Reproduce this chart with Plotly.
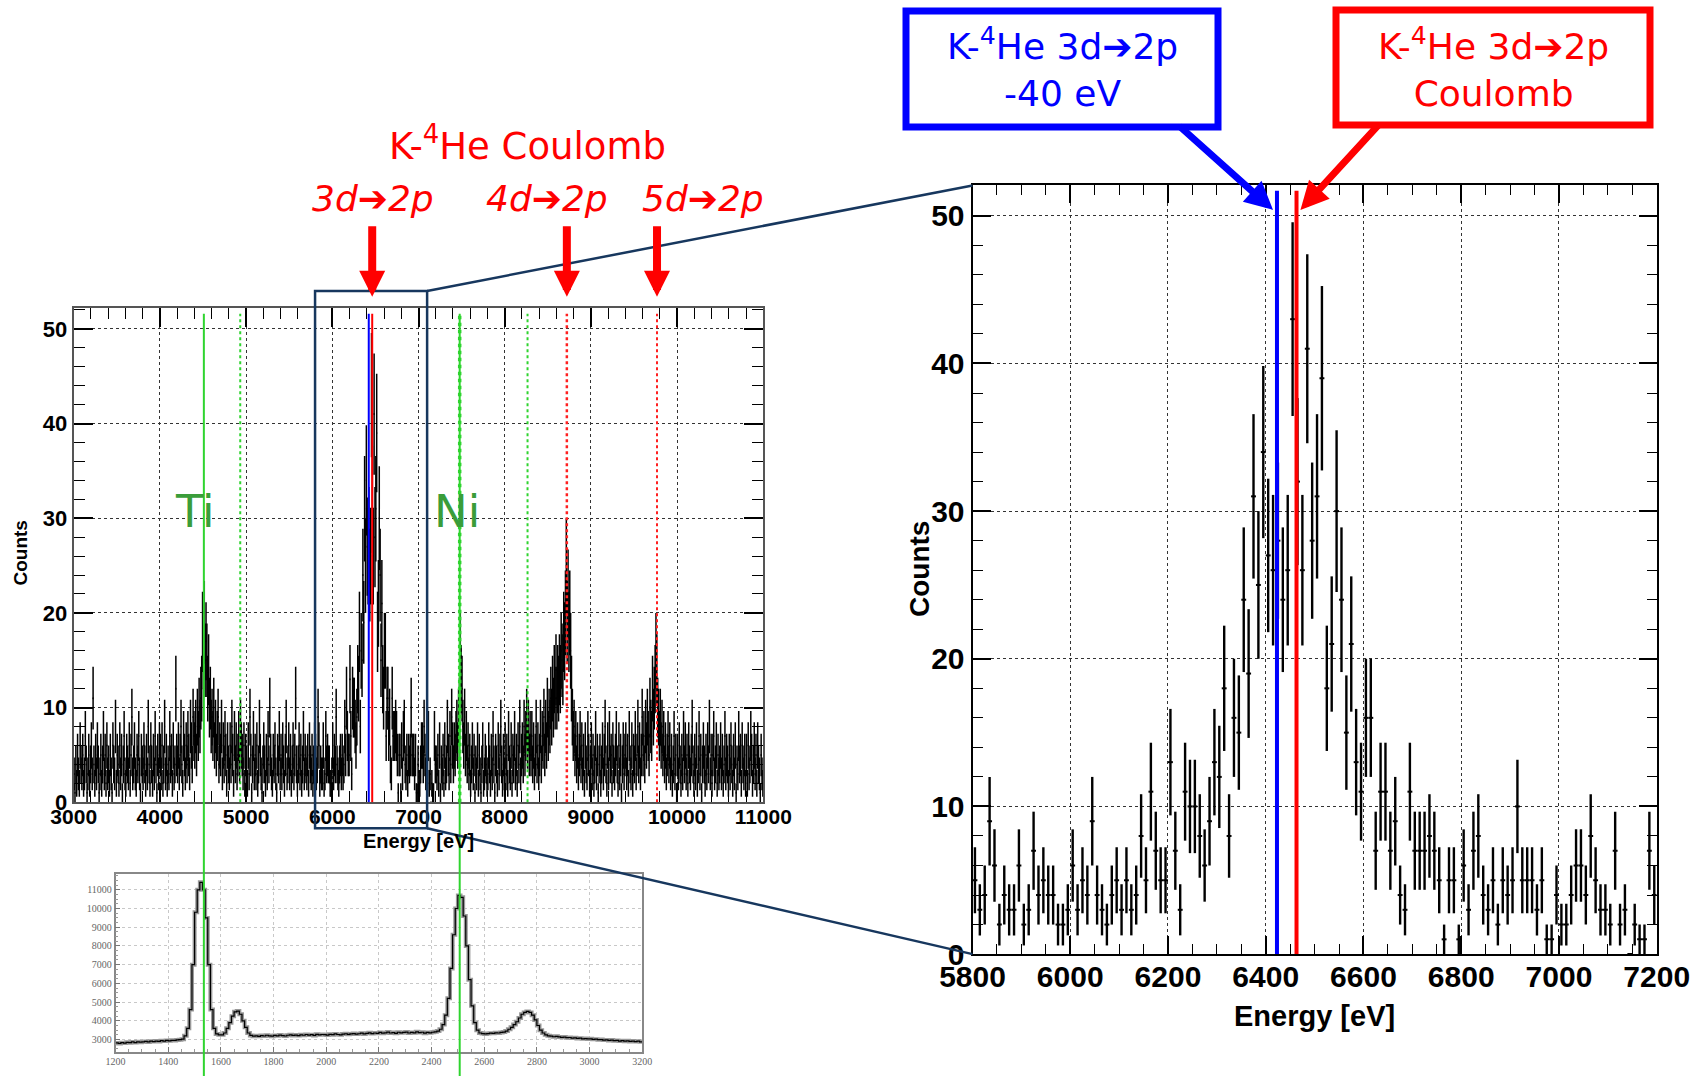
import numpy as np
import plotly.graph_objects as go

# ---------------- data ----------------
BIN_WIDTH = 10  # eV
# K-4He X-ray spectrum, counts per 10 eV bin (left edges 3000 ... 10990 eV)
counts_3000_3999 = [
    3, 1, 4, 2, 5, 3, 2, 6, 4, 3,  5, 2, 3, 7, 4, 1, 3, 5, 2, 4,
    6, 3, 11, 4, 2, 5, 3, 6, 4, 1,  3, 5, 2, 4, 7, 3, 5, 2, 6, 3,
    4, 2, 5, 3, 1, 6, 4, 3, 8, 2,  5, 4, 2, 6, 3, 5, 1, 4, 7, 3,
    2, 5, 4, 3, 6, 2, 5, 9, 3, 4,  6, 3, 2, 5, 4, 7, 3, 1, 5, 4,
    3, 6, 4, 2, 5, 3, 8, 4, 2, 6,  4, 2, 5, 3, 7, 4, 1, 5, 3, 6]
counts_4000_4999 = [
    5, 3, 6, 2, 4, 8, 3, 5, 2, 4,  3, 7, 4, 5, 2, 6, 3, 4, 12, 5,
    4, 6, 3, 5, 8, 4, 2, 7, 5, 3,  6, 4, 7, 5, 3, 8, 6, 4, 9, 7,
    6, 8, 5, 9, 7, 10, 8, 11, 12, 18,  16, 19, 15, 17, 15, 12, 14, 10, 11, 8,
    9, 7, 10, 6, 8, 5, 7, 9, 4, 6,  5, 8, 3, 6, 4, 7, 5, 2, 6, 4,
    3, 6, 4, 8, 5, 2, 7, 4, 6, 3,  5, 7, 4, 8, 6, 5, 3, 6, 2, 5]
counts_5000_5799 = [
    4, 2, 6, 3, 9, 5, 1, 4, 7, 3,  5, 3, 6, 2, 4, 8, 5, 3, 1, 4,
    6, 4, 2, 5, 3, 7, 4, 10, 5, 3,  2, 5, 4, 6, 3, 1, 5, 4, 7, 3,
    5, 3, 6, 4, 2, 5, 8, 3, 4, 6,  3, 5, 2, 4, 6, 3, 5, 11, 4, 2,
    4, 6, 3, 5, 2, 4, 7, 3, 5, 4,  3, 5, 2, 6, 4, 3, 5, 2, 4, 6]
# zoomed region 5800 ... 7190 eV
counts_5800_7199 = [
    5, 3, 4, 9, 6, 2, 4, 3, 3, 6,  2, 3, 7, 4, 5, 4, 4, 2, 2, 3,
    6, 3, 5, 4, 9, 4, 3, 2, 4, 5,  3, 5, 3, 4, 8, 5, 11, 7, 5, 5,
    13, 7, 3, 11, 10, 10, 8, 6, 9, 13,  12, 18, 8, 16, 15, 24, 19, 31, 25, 34,
    27, 26, 28, 24, 26, 43, 32, 26, 41, 28,  31, 39, 18, 21, 30, 24, 15, 21, 13, 11,
    16, 16, 7, 11, 11, 7, 9, 4, 3, 11,  7, 7, 7, 8, 7, 5, 1, 5, 5, 1,
    6, 3, 7, 8, 4, 3, 5, 2, 5, 4,  5, 10, 5, 5, 5, 3, 5, 1, 1, 4,
    2, 2, 4, 6, 6, 4, 8, 5, 3, 3,  2, 7, 2, 3, 0, 2, 1, 1, 7, 4]
counts_7200_7999 = [
    4, 3, 5, 2, 6, 1, 4, 3, 5, 2,  6, 3, 4, 8, 5, 3, 7, 4, 9, 6,
    4, 6, 5, 7, 8, 6, 9, 10, 16, 13,  12, 8, 6, 9, 5, 7, 4, 6, 3, 5,
    2, 4, 6, 3, 5, 1, 4, 3, 6, 2,  5, 3, 1, 4, 6, 2, 3, 5, 4, 2,
    3, 6, 4, 2, 5, 3, 7, 4, 1, 5,  4, 2, 6, 3, 5, 8, 4, 2, 5, 3]
counts_8000_8999 = [
    6, 3, 5, 2, 7, 4, 3, 6, 2, 5,  4, 7, 3, 5, 2, 6, 4, 8, 3, 5,
    6, 4, 8, 5, 7, 9, 6, 8, 5, 7,  5, 7, 4, 6, 3, 5, 8, 4, 6, 3,
    5, 8, 4, 7, 6, 9, 5, 8, 6, 10,  7, 9, 8, 11, 9, 12, 10, 13, 11, 14,
    11, 13, 12, 14, 13, 16, 15, 14, 18, 17,  20, 25, 19, 22, 18, 20, 16, 12, 9, 7,
    8, 5, 7, 4, 6, 3, 5, 7, 4, 6,  3, 5, 2, 6, 4, 3, 7, 5, 2, 4]
counts_9000_9999 = [
    6, 3, 5, 2, 4, 7, 3, 5, 1, 4,  5, 2, 4, 6, 3, 5, 8, 4, 2, 6,
    3, 7, 4, 5, 2, 6, 4, 3, 5, 7,  4, 2, 6, 3, 5, 1, 4, 6, 3, 5,
    6, 3, 5, 2, 7, 4, 3, 6, 2, 5,  4, 7, 3, 5, 8, 4, 6, 3, 5, 9,
    5, 7, 4, 8, 6, 9, 7, 5, 10, 8,  7, 12, 9, 11, 13, 16, 14, 10, 9, 7,
    9, 6, 8, 5, 7, 4, 6, 3, 5, 7,  4, 6, 3, 5, 2, 4, 7, 3, 5, 1]
counts_10000_10999 = [
    5, 3, 6, 4, 2, 5, 3, 7, 4, 6,  3, 5, 2, 6, 4, 3, 5, 8, 4, 2,
    5, 3, 6, 2, 4, 7, 3, 5, 1, 4,  6, 4, 2, 5, 3, 6, 4, 8, 3, 5,
    2, 5, 7, 3, 4, 6, 2, 5, 3, 4,  6, 3, 5, 2, 4, 7, 3, 5, 4, 2,
    5, 3, 6, 4, 2, 5, 3, 6, 1, 4,  3, 7, 4, 5, 2, 6, 4, 3, 5, 2,
    5, 2, 6, 3, 4, 7, 5, 2, 4, 6,  3, 5, 2, 6, 4, 3, 1, 5, 3, 2]

# calibration spectrum (Ti / Ni fluorescence), channels 1200 ... 3190, step 10
calib_channel_start = 1200
calib_counts = [
    2820, 2790, 2830, 2810, 2850, 2830, 2870, 2840, 2880, 2860,
    2880, 2900, 2870, 2910, 2890, 2920, 2900, 2940, 2920, 2950,
    2930, 2960, 2950, 2980, 2990, 3020, 3200, 3600, 4600, 7000,
    9800, 11000, 11400, 11000, 9500, 7000, 4600, 3600, 3300, 3250,
    3250, 3350, 3600, 3900, 4250, 4480, 4520, 4350, 4000, 3650,
    3350, 3220, 3180, 3200, 3170, 3210, 3190, 3230, 3200, 3180,
    3220, 3200, 3240, 3210, 3190, 3230, 3250, 3220, 3240, 3210,
    3250, 3230, 3270, 3240, 3260, 3220, 3280, 3250, 3270, 3260,
    3240, 3280, 3260, 3300, 3270, 3250, 3290, 3310, 3280, 3300,
    3320, 3290, 3310, 3340, 3300, 3330, 3360, 3320, 3350, 3330,
    3380, 3340, 3360, 3400, 3350, 3370, 3330, 3390, 3360, 3380,
    3400, 3350, 3380, 3360, 3410, 3370, 3390, 3340, 3380, 3360,
    3390, 3410, 3450, 3550, 3800, 4300, 5200, 6800, 8600, 10000,
    10700, 10600, 9600, 8000, 6200, 4800, 3900, 3500, 3350, 3320,
    3300, 3320, 3340, 3330, 3360, 3350, 3380, 3400, 3450, 3550,
    3650, 3800, 3950, 4150, 4350, 4450, 4500, 4450, 4300, 4050,
    3750, 3500, 3350, 3250, 3200, 3180, 3150, 3170, 3140, 3120,
    3130, 3100, 3110, 3080, 3090, 3060, 3070, 3040, 3050, 3030,
    3040, 3010, 3020, 2990, 3000, 2970, 2980, 2950, 2970, 2940,
    2950, 2920, 2940, 2910, 2930, 2900, 2920, 2890, 2910, 2880]

# line energies (eV)
TI_KA, TI_KB = 4510, 4932
NI_KA, NI_KB = 7478, 8265
KHE_3D2P = 6463
KHE_3D2P_SHIFT = 6423   # -40 eV
KHE_4D2P = 8721
KHE_5D2P = 9767

# ---------------- layout geometry ----------------
W, H = 1700, 1076
def dom_x(l, r):
    return [l / W, r / W]
def dom_y(t, b):
    return [1 - b / H, 1 - t / H]
def to_paper(v, dom, rng):
    return dom[0] + (v - rng[0]) / (rng[1] - rng[0]) * (dom[1] - dom[0])
def px(x):
    return x / W
def py(y):
    return 1 - y / H

L_DX, L_DY = dom_x(73.7, 763.3), dom_y(308, 802.3)
L_XR, L_YR = [3000, 11000], [0, 52.2]
C_DX, C_DY = dom_x(115.6, 642.2), dom_y(873.9, 1051.7)
C_XR, C_YR = [1200, 3200], [2350, 11850]
R_DX, R_DY = dom_x(972.5, 1656.7), dom_y(185.4, 954.1)
R_XR, R_YR = [5800, 7200], [0, 52.06]

counts = np.array(counts_3000_3999 + counts_4000_4999 + counts_5000_5799 +
                  counts_5800_7199 + counts_7200_7999 + counts_8000_8999 +
                  counts_9000_9999 + counts_10000_10999, dtype=float)
centers = 3000 + BIN_WIDTH * (np.arange(len(counts)) + 0.5)
zmask = (centers > R_XR[0]) & (centers < R_XR[1])

cal = np.array(calib_counts, dtype=float)
cal_x = calib_channel_start + 10 * np.arange(len(cal) + 1)
cal_y = np.append(cal, cal[-1])

fig = go.Figure()

# main spectrum
fig.add_trace(go.Scatter(
    x=centers, y=counts, mode='markers', xaxis='x', yaxis='y',
    marker=dict(size=1, color='black'),
    error_y=dict(type='data', array=np.sqrt(counts), width=0, thickness=1.5, color='black'),
    error_x=dict(type='constant', value=BIN_WIDTH / 2, width=0, thickness=2, color='black'),
    hoverinfo='skip'))
# calibration
fig.add_trace(go.Scatter(x=cal_x, y=cal_y, mode='lines', line_shape='hv', xaxis='x2', yaxis='y2',
                         line=dict(color='#999999', width=4), hoverinfo='skip'))
fig.add_trace(go.Scatter(x=cal_x, y=cal_y, mode='lines', line_shape='hv', xaxis='x2', yaxis='y2',
                         line=dict(color='black', width=1.2), hoverinfo='skip'))
# zoomed spectrum
fig.add_trace(go.Scatter(
    x=centers[zmask], y=counts[zmask], mode='markers', xaxis='x3', yaxis='y3',
    marker=dict(size=2, color='black'),
    error_y=dict(type='data', array=np.sqrt(counts[zmask]), width=0, thickness=2.4, color='black'),
    error_x=dict(type='constant', value=BIN_WIDTH / 2, width=0, thickness=2, color='black'),
    hoverinfo='skip'))

def root_axis(dom, rng, dtick, minor, ticklen, minorlen, fsize, linecolor='black', **kw):
    d = dict(domain=dom, range=rng, dtick=dtick, tick0=rng[0], tickformat='d', automargin=False,
             showline=True, linecolor=linecolor, linewidth=2, mirror='allticks',
             ticks='inside', ticklen=ticklen, tickwidth=1.5, tickcolor='black',
             minor=dict(ticks='inside', ticklen=minorlen, tickwidth=1.2, dtick=minor,
                        tickcolor='black', showgrid=False),
             showgrid=True, gridcolor='#333333', griddash='dot', gridwidth=1,
             tickfont=dict(family='Liberation Sans', size=fsize, color='black', weight='bold'),
             zeroline=False, fixedrange=True)
    d.update(kw)
    return d

small_font = dict(family='Liberation Serif', size=10, color='#666666')
fig.update_layout(
    width=W, height=H, margin=dict(l=0, r=0, t=0, b=0, pad=0), autosize=False,
    paper_bgcolor='white', plot_bgcolor='white', showlegend=False,
    xaxis=root_axis(L_DX, L_XR, 1000, 200, 19, 11, 21, anchor='y', linecolor='#555555',
                    ticklabelstandoff=-6),
    yaxis=root_axis(L_DY, L_YR, 10, 2, 19, 11, 22, anchor='x', linecolor='#555555'),
    xaxis3=root_axis(R_DX, R_XR, 200, 50, 18, 10, 30, anchor='y3', ticklabelstandoff=-5),
    yaxis3=root_axis(R_DY, R_YR, 10, 2, 18, 10, 30, anchor='x3'),
    xaxis2=dict(domain=C_DX, range=C_XR, dtick=200, tick0=1200, tickformat='d', anchor='y2',
                automargin=False, showline=True, linecolor='#888888',
                linewidth=1.5, mirror=True, ticks='inside', ticklen=5, tickcolor='#777777',
                minor=dict(ticks='inside', ticklen=3, dtick=50, tickcolor='#999999'),
                showgrid=True, gridcolor='#c8c8c8', griddash='dot', zeroline=False,
                tickfont=small_font, fixedrange=True),
    yaxis2=dict(domain=C_DY, range=C_YR, dtick=1000, tick0=0, tickformat='d', anchor='x2',
                automargin=False, showline=True,
                linecolor='#888888', linewidth=1.5, mirror=True, ticks='inside', ticklen=5,
                tickcolor='#777777', minor=dict(ticks='inside', ticklen=3, dtick=250, tickcolor='#999999'),
                showgrid=True, gridcolor='#c8c8c8', griddash='dot', zeroline=False,
                tickfont=small_font, fixedrange=True),
)

shapes = []
GREEN = '#2fd42f'
NAVY = '#17375e'
ytop_l = to_paper(51.6, L_DY, L_YR)
# long green calibration lines through both left panels
for e in (TI_KA, NI_KA):
    xp = to_paper(e, L_DX, L_XR)
    shapes.append(dict(type='line', xref='paper', yref='paper', x0=xp, x1=xp, y0=0, y1=ytop_l,
                       line=dict(color=GREEN, width=2)))
# dotted lines inside the main plot
for e, col, w in ((TI_KB, GREEN, 2), (NI_KA, GREEN, 3.5), (NI_KB, GREEN, 2),
                  (KHE_4D2P, '#ff2020', 2.5), (KHE_5D2P, '#ff2020', 2)):
    shapes.append(dict(type='line', xref='x', yref='y', x0=e, x1=e, y0=0, y1=51.6,
                       line=dict(color=col, width=w, dash='dot')))
shapes.append(dict(type='line', xref='x', yref='y', x0=KHE_3D2P_SHIFT, x1=KHE_3D2P_SHIFT, y0=0, y1=51.6,
                   line=dict(color='#0000ff', width=2)))
shapes.append(dict(type='line', xref='x', yref='y', x0=KHE_3D2P, x1=KHE_3D2P, y0=0, y1=51.6,
                   line=dict(color='#ff0000', width=2)))
# lines in the zoomed plot
shapes.append(dict(type='line', xref='x3', yref='y3', x0=KHE_3D2P_SHIFT, x1=KHE_3D2P_SHIFT, y0=0, y1=51.7,
                   line=dict(color='#0000ff', width=4)))
shapes.append(dict(type='line', xref='x3', yref='y3', x0=KHE_3D2P, x1=KHE_3D2P, y0=0, y1=51.7,
                   line=dict(color='#ff0000', width=4)))
# zoom box and connectors
bx0, bx1 = to_paper(R_XR[0], L_DX, L_XR), to_paper(7100, L_DX, L_XR)
by0, by1 = to_paper(-2.75, L_DY, L_YR), to_paper(54.0, L_DY, L_YR)
shapes.append(dict(type='rect', xref='paper', yref='paper', x0=bx0, x1=bx1, y0=by0, y1=by1,
                   line=dict(color=NAVY, width=2.5)))
shapes.append(dict(type='line', xref='paper', yref='paper', x0=bx1, y0=by1, x1=R_DX[0], y1=R_DY[1],
                   line=dict(color=NAVY, width=2.5)))
shapes.append(dict(type='line', xref='paper', yref='paper', x0=bx1, y0=by0, x1=R_DX[0], y1=R_DY[0],
                   line=dict(color=NAVY, width=2.5)))
# label boxes
shapes.append(dict(type='rect', xref='paper', yref='paper', x0=px(906), x1=px(1218), y0=py(127), y1=py(11),
                   line=dict(color='#0000ff', width=7)))
shapes.append(dict(type='rect', xref='paper', yref='paper', x0=px(1336), x1=px(1650), y0=py(125), y1=py(10),
                   line=dict(color='#ff0000', width=7)))
fig.update_layout(shapes=shapes)

ann = []
TXT = 'DejaVu Sans'
C = dict(xref='paper', yref='paper', xanchor='center', yanchor='middle', showarrow=False)
ann.append(dict(x=px(527), y=py(143), text='K-<sup>4</sup>He Coulomb',
                font=dict(family=TXT, size=37, color='#ff0000'), **C))
for e, cx in ((KHE_3D2P, 373), (KHE_4D2P, 547), (KHE_5D2P, 703)):
    lab = {KHE_3D2P: '3d', KHE_4D2P: '4d', KHE_5D2P: '5d'}[e]
    ann.append(dict(x=px(cx), y=py(199), text='<i>%s➔2p</i>' % lab,
                    font=dict(family=TXT, size=36, color='#ff0000'), **C))
    ann.append(dict(x=e, y=py(296.7), xref='x', yref='paper', ax=0, ay=-72, text='',
                    showarrow=True, arrowhead=2, arrowsize=0.65, arrowwidth=8, arrowcolor='#ff0000'))
ann.append(dict(x=px(195), y=py(511), text='Ti', font=dict(family=TXT, size=45, color='#3a9d3a'), **C))
ann.append(dict(x=px(457), y=py(511), text='Ni', font=dict(family=TXT, size=45, color='#3a9d3a'), **C))
ann.append(dict(x=px(1062), y=py(67), text='K-<sup>4</sup>He 3d➔2p<br>-40 eV',
                font=dict(family=TXT, size=36, color='#0000ff'), **C))
ann.append(dict(x=px(1493), y=py(67), text='K-<sup>4</sup>He 3d➔2p<br>Coulomb',
                font=dict(family=TXT, size=36, color='#ff0000'), **C))
ann.append(dict(x=KHE_3D2P_SHIFT - 8, y=50.4, xref='x3', yref='y3', ax=-95, ay=-85, text='',
                showarrow=True, arrowhead=2, arrowsize=0.8, arrowwidth=7, arrowcolor='#0000ff'))
ann.append(dict(x=KHE_3D2P + 8, y=50.4, xref='x3', yref='y3', ax=80, ay=-87, text='',
                showarrow=True, arrowhead=2, arrowsize=0.8, arrowwidth=7, arrowcolor='#ff0000'))
# axis titles
AX = 'Liberation Sans'
ann.append(dict(x=px(19.5), y=py(553), text='<b>Counts</b>', textangle=-90,
                font=dict(family=AX, size=19, color='black'), **C))
ann.append(dict(x=px(418), y=py(841), text='<b>Energy [eV]</b>',
                font=dict(family=AX, size=20, color='black'), **C))
ann.append(dict(x=px(919), y=py(569), text='<b>Counts</b>', textangle=-90,
                font=dict(family=AX, size=28, color='black'), **C))
ann.append(dict(x=px(1314), y=py(1016), text='<b>Energy [eV]</b>',
                font=dict(family=AX, size=29, color='black'), **C))
fig.update_layout(annotations=ann)

fig.write_html('out.html', config={'displayModeBar': False},
               post_script="document.body.style.margin='0px';document.body.style.overflow='hidden';")
